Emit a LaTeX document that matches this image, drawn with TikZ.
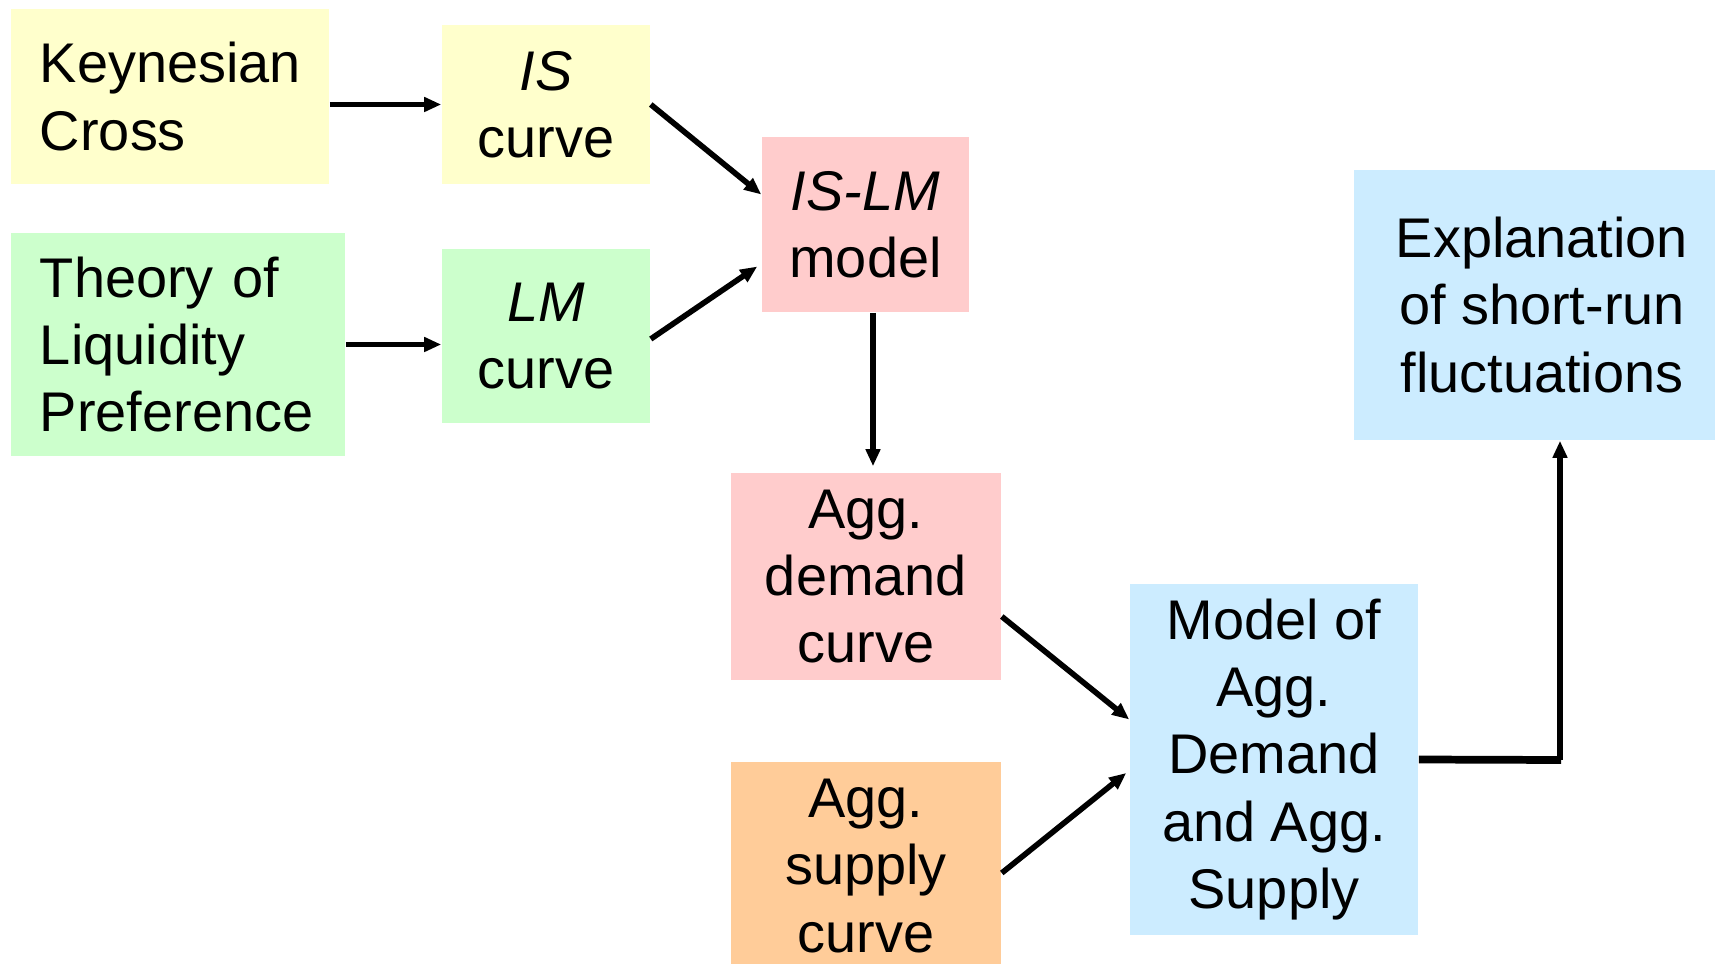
\documentclass[tikz,border=0pt]{standalone}
\usepackage{fontspec}
\setmainfont{Liberation Sans}
\usetikzlibrary{arrows.meta}
\definecolor{boxyellow}{HTML}{FFFFCC}
\definecolor{boxgreen}{HTML}{CCFFCC}
\definecolor{boxpink}{HTML}{FFCCCC}
\definecolor{boxorange}{HTML}{FFCC99}
\definecolor{boxblue}{HTML}{CCECFF}
\tikzset{
    box/.style={inner sep=0pt, align=center, font=\fontsize{15.9}{19.1}\selectfont},
    leftbox/.style={box, align=left, inner xsep=0.29cm},
    arr/.style={-{Triangle[length=0.17cm,width=0.14cm]}, line width=1.6pt}
}

\begin{document}
\begin{tikzpicture}[x=0.01cm, y=-0.01cm]
        \useasboundingbox (0, 0) rectangle (1715, 964);

        \node[leftbox, fill=boxyellow, text width=2.6cm, minimum height=1.75cm] (kc) at (170, 96.5) {Keynesian\\Cross};
        \node[box, fill=boxyellow, minimum width=2.08cm, minimum height=1.59cm] (is) at (546, 104.5) {\textit{IS}\\curve};
        \node[leftbox, fill=boxgreen, text width=2.76cm, minimum height=2.23cm] (tlp) at (178, 344.5) {Theory of\\Liquidity\\Preference};
        \node[box, fill=boxgreen, minimum width=2.08cm, minimum height=1.74cm] (lm) at (546, 336) {\textit{LM}\\curve};
        \node[box, fill=boxpink, minimum width=2.07cm, minimum height=1.75cm] (islm) at (865.5, 224.5) {\textit{IS-LM}\\model};
        \node[box, fill=boxpink, minimum width=2.70cm, minimum height=2.07cm] (ad) at (866, 576.5) {Agg.\\demand\\curve};
        \node[box, fill=boxorange, minimum width=2.70cm, minimum height=2.07cm] (as) at (866, 866) {Agg.\\supply\\curve};
        \node[box, fill=boxblue, minimum width=2.88cm, minimum height=3.51cm] (model) at (1274, 759.5) {Model of\\Agg.\\Demand\\and Agg.\\Supply};
        \node[box, fill=boxblue, minimum width=3.76cm, minimum height=2.70cm] (expl) at (1542, 305) {Explanation\\of short-run\\fluctuations};

        \draw[arr] (kc.east |- is.west) -- (is.west);
        \draw[arr] (tlp.east) -- (tlp.east -| lm.west);
        \draw[arr] (is.east) -- ([yshift=0.3cm]islm.west);
        \draw[arr] ([yshift=-0.03cm]lm.east) -- ([yshift=-0.42cm, xshift=-0.04cm]islm.west);
        \draw[arr, shorten >=0.06cm] ([xshift=0.075cm]islm.south) -- ([xshift=0.075cm]islm.south |- ad.north);
        \draw[arr] ([yshift=-0.4cm]ad.east) -- ([yshift=0.4cm]model.west);
        \draw[arr] ([yshift=-0.07cm]as.east) -- ([yshift=-0.135cm, xshift=-0.03cm]model.west);

        \coordinate (bend) at (1560, 760);
        \draw[line width=2.2pt] (model.east) -- ([xshift=0.01cm]bend);
        \draw[arr] (bend) -- (bend |- expl.south);
    \end{tikzpicture}
\end{document}
